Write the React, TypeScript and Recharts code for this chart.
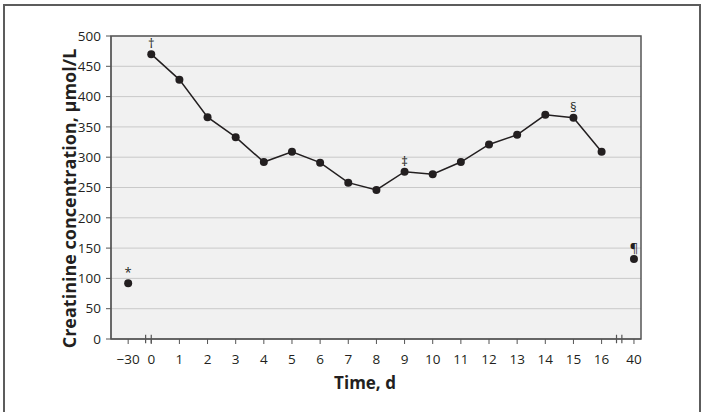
import * as React from "react";
import {
  LineChart,
  Line,
  XAxis,
  YAxis,
  CartesianGrid,
  ReferenceArea,
  ReferenceLine,
  LabelList,
} from "recharts";

// days sampled, creatinine in µmol/L, footnote markers
const days = [-30, 0, 1, 2, 3, 4, 5, 6, 7, 8, 9, 10, 11, 12, 13, 14, 15, 16, 40];
const creatinine = [92, 470, 428, 366, 333, 292, 309, 291, 258, 246, 276, 272, 292, 321, 337, 370, 365, 309, 132];
const notes: Record<number, string> = { [-30]: "*", 0: "†", 9: "‡", 15: "§", 40: "¶" };
const yTicks = [0, 50, 100, 150, 200, 250, 300, 350, 400, 450, 500];

// broken time axis: the outlying days are squeezed next to the main run
const slotOf = (d: number) => (d < 0 ? -0.82 : d > 16 ? 17.15 : d);
const dayOfSlot = (s: number) => {
  const i = days.findIndex((d) => Math.abs(slotOf(d) - s) < 1e-6);
  return i < 0 ? "" : days[i] < 0 ? "\u2212" + Math.abs(days[i]) : String(days[i]);
};
const X_DOMAIN: [number, number] = [-1.43, 17.4];
const breakMarks = [-0.2, 0, 16.53, 16.72];

const rows = days.map((d, i) => ({ slot: slotOf(d), value: creatinine[i], note: notes[d] ?? "" }));
const mainRun = rows.filter((r, i) => days[i] >= 0 && days[i] <= 16);
const outliers = rows.filter((r, i) => days[i] < 0 || days[i] > 16);

const FONT = "'Open Sans', 'Noto Sans', sans-serif";
const INK = "#231f20";

export default function App() {
  return (
    <div
      style={{
        position: "fixed",
        left: 0,
        top: 0,
        width: 704,
        height: 412,
        overflow: "hidden",
        background: "#fff",
        fontFamily: FONT,
      }}
    >
      {/* figure frame, open at the bottom edge of the picture */}
      <div
        style={{
          position: "absolute",
          left: 3,
          top: 4,
          width: 694,
          height: 440,
          border: "2px solid #5c5c5c",
          boxSizing: "content-box",
        }}
      />
      <div style={{ position: "absolute", left: 0, top: 0 }}>
        <LineChart width={704} height={412} margin={{ top: 36, right: 63, left: 0, bottom: 0 }}>
          <CartesianGrid vertical={false} stroke="#c9c9c9" fill="#f1f1f1" fillOpacity={1} />
          <XAxis
            type="number"
            dataKey="slot"
            domain={X_DOMAIN}
            ticks={rows.map((r) => r.slot)}
            tickFormatter={dayOfSlot}
            allowDataOverflow
            height={73}
            tickSize={5}
            tickMargin={10}
            stroke="#555"
            tick={{ fill: INK, fontSize: 13.5, fontFamily: FONT }}
            label={{ value: "Time, d", position: "insideBottom", offset: 23, dx: -11, fill: INK, fontSize: 17, fontWeight: 700, fontFamily: FONT }}
          />
          <YAxis
            type="number"
            domain={[0, 500]}
            ticks={yTicks}
            width={111}
            tickSize={5}
            tickMargin={5}
            stroke="#555"
            tick={{ fill: INK, fontSize: 13.5, fontFamily: FONT }}
            label={{ value: "Creatinine concentration, \u00b5mol/L", angle: -90, position: "center", dx: 14, dy: 11, fill: INK, fontSize: 18, fontWeight: 700, fontFamily: FONT }}
          />
          <ReferenceArea x1={X_DOMAIN[0]} x2={X_DOMAIN[1]} y1={0} y2={500} fill="none" stroke="#555" strokeWidth={1.5} />
          {breakMarks.map((b) => (
            <ReferenceLine key={b} segment={[{ x: b, y: -7 }, { x: b, y: 7 }]} stroke="#555" strokeWidth={1.2} ifOverflow="visible" />
          ))}
          <Line
            data={mainRun}
            dataKey="value"
            stroke={INK}
            strokeWidth={1.5}
            dot={{ r: 4, fill: INK, stroke: INK, strokeWidth: 0 }}
            isAnimationActive={false}
          >
            <LabelList dataKey="note" position="top" offset={6} fill={INK} fontSize={13} fontFamily={FONT} />
          </Line>
          <Line
            data={outliers}
            dataKey="value"
            stroke="none"
            dot={{ r: 4, fill: INK, stroke: INK, strokeWidth: 0 }}
            isAnimationActive={false}
          >
            <LabelList dataKey="note" position="top" offset={6} fill={INK} fontSize={13} fontFamily={FONT} />
          </Line>
        </LineChart>
      </div>
    </div>
  );
}
